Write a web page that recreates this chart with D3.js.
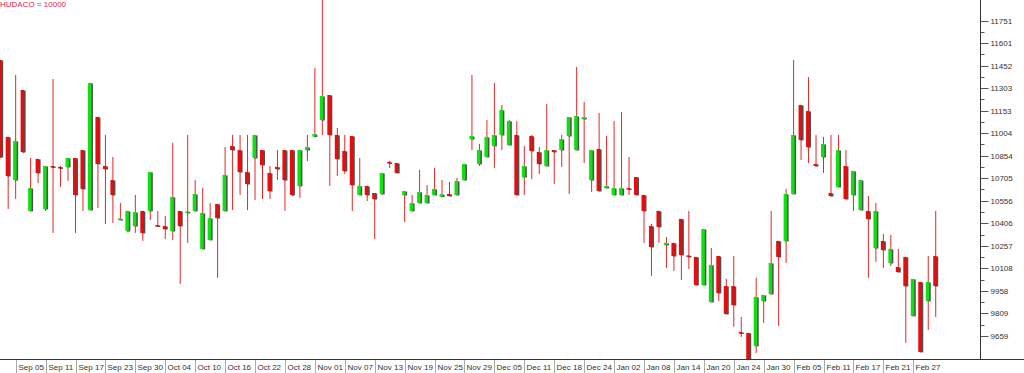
<!DOCTYPE html>
<html>
<head>
<meta charset="utf-8">
<script src="https://cdn.jsdelivr.net/npm/d3@7"></script>
<style>
body { margin: 0; background: #fff; }
svg { display: block; font-family: "Liberation Sans", Arial, sans-serif; }
</style>
</head>
<body>
<svg id="chart"></svg>
<script>
const title = 'HUDACO = 10000';

const dateLabels = ['Sep 05', 'Sep 11', 'Sep 17', 'Sep 23', 'Sep 30', 'Oct 04', 'Oct 10', 'Oct 16',
  'Oct 22', 'Oct 28', 'Nov 01', 'Nov 07', 'Nov 13', 'Nov 19', 'Nov 25', 'Nov 29', 'Dec 05',
  'Dec 11', 'Dec 18', 'Dec 24', 'Jan 02', 'Jan 08', 'Jan 14', 'Jan 20', 'Jan 24', 'Jan 30',
  'Feb 05', 'Feb 11', 'Feb 17', 'Feb 21', 'Feb 27'];

const yTicks = [9659, 9809, 9958, 10108, 10257, 10406, 10556, 10705, 10854, 11004, 11153, 11303,
  11452, 11601, 11751];

const open = [
  11489, 10979, 10693, 11290, 10488, 10833, 10501, 10786, 10780, 10780,
  10839, 10892, 10494, 11111, 10786, 10693, 10432, 10355, 10388, 10488,
  10488, 10395, 10388, 10355, 10488, 10481, 10488, 10236, 10296, 10534,
  10488, 10919, 10892, 10746, 10839, 10892, 10740, 10780, 10892, 10892,
  10654, 10892, 10981, 11091, 11257, 10992, 10886, 10985, 10594, 10654,
  10607, 10601, 10813, 10806, 10594, 10488, 10541, 10541, 10594, 10583,
  10601, 10594, 10693, 10965, 10800, 10846, 10919, 10992, 10925, 10992,
  10713, 10985, 10879, 10786, 10892, 10892, 10985, 10892, 11098, 10693,
  10899, 10640, 10594, 10594, 10640, 10713, 10594, 10388, 10488, 10262,
  10276, 10435, 10193, 10183, 9997, 9884, 10189, 9990, 9990, 9685,
  9679, 9593, 9891, 9937, 10289, 10289, 10601, 11191, 11151, 10800,
  10846, 10607, 10647, 10786, 10594, 10494, 10488, 10242, 10289, 10143,
  10116, 10183, 9792, 10017, 9891, 10189
];
const high = [
  11489, 10979, 11390, 11290, 10839, 10833, 10786, 11363, 10786, 10839,
  10839, 10892, 11337, 11111, 10992, 10846, 10541, 10488, 10594, 10488,
  10746, 10488, 10455, 10939, 10488, 10992, 10693, 10640, 10541, 10534,
  10912, 10992, 10992, 10992, 10992, 10892, 10786, 10892, 10892, 10892,
  10892, 10992, 11436, 11890, 11257, 11038, 10992, 10985, 10839, 10654,
  10607, 10740, 10821, 10806, 10620, 10594, 10760, 10660, 10773, 10693,
  10680, 10707, 10800, 11390, 10932, 11091, 11337, 11191, 11091, 11085,
  10919, 10992, 10912, 11197, 10892, 10992, 11111, 11443, 11211, 10892,
  11138, 10985, 11085, 11144, 10846, 10713, 10594, 10402, 10488, 10315,
  10276, 10435, 10488, 10183, 10368, 10242, 10189, 10037, 10189, 9785,
  9679, 10044, 9931, 10488, 10289, 10634, 11489, 11191, 11376, 10992,
  10979, 10992, 10992, 10892, 10753, 10693, 10587, 10541, 10335, 10329,
  10236, 10183, 10037, 10017, 10189, 10488
];
const low = [
  10839, 10501, 10567, 10872, 10488, 10673, 10488, 10342, 10647, 10687,
  10342, 10488, 10494, 10508, 10402, 10408, 10432, 10349, 10342, 10289,
  10428, 10382, 10302, 10296, 10004, 10276, 10488, 10236, 10296, 10044,
  10488, 10494, 10594, 10494, 10561, 10567, 10567, 10693, 10488, 10587,
  10574, 10819, 10981, 10992, 10654, 10720, 10733, 10488, 10594, 10554,
  10302, 10594, 10773, 10740, 10415, 10488, 10541, 10541, 10594, 10583,
  10587, 10594, 10693, 10892, 10786, 10846, 10773, 10892, 10925, 10594,
  10594, 10700, 10733, 10786, 10667, 10780, 10601, 10892, 10806, 10614,
  10620, 10640, 10594, 10594, 10594, 10594, 10276, 10057, 10276, 10110,
  10090, 10030, 10103, 9997, 9997, 9884, 9891, 9805, 9719, 9652,
  9490, 9546, 9745, 9937, 9725, 10143, 10601, 10826, 10806, 10786,
  10740, 10587, 10647, 10567, 10488, 10494, 10044, 10150, 10110, 10123,
  10083, 9613, 9792, 9553, 9699, 9785
];
const close = [
  10846, 10720, 10952, 10879, 10640, 10740, 10786, 10783, 10773, 10839,
  10594, 10634, 11337, 10800, 10766, 10594, 10438, 10488, 10481, 10342,
  10746, 10385, 10368, 10581, 10388, 10485, 10601, 10475, 10441, 10441,
  10727, 10892, 10746, 10667, 10992, 10793, 10620, 10766, 10693, 10594,
  10892, 10912, 10998, 11250, 10992, 10833, 10753, 10660, 10654, 10594,
  10567, 10740, 10809, 10740, 10620, 10541, 10614, 10594, 10634, 10599,
  10587, 10687, 10800, 10985, 10892, 10979, 10992, 11158, 11085, 10594,
  10786, 10886, 10800, 10892, 10879, 10965, 11111, 11118, 11111, 10892,
  10620, 10654, 10640, 10640, 10637, 10594, 10488, 10249, 10382, 10276,
  10189, 10196, 10189, 9997, 10368, 10130, 9944, 9805, 9864, 9679,
  9500, 9918, 9931, 10143, 10183, 10601, 10992, 10959, 10912, 10786,
  10932, 10587, 10892, 10567, 10753, 10693, 10435, 10488, 10229, 10236,
  10083, 9990, 10037, 9553, 10017, 9990
];

const [width, height] = [1024, 373];
const plotRight = 980, plotBottom = 359;

const candles = open.map((o, i) => ({ i: i, o: o, h: high[i], l: low[i], c: close[i] }));

let svg = d3.select('#chart')
  .attr('width', width)
  .attr('height', height)

// x: trading day index, y: price
let x = d3.scaleLinear().domain([0, 131]).range([0.7, 980.6])
let y = d3.scaleLinear().domain([9506, 11887]).range([plotBottom, 0])

svg.append('defs').append('clipPath')
  .attr('id', 'plotclip')
  .append('rect')
  .attr('width', plotRight)
  .attr('height', plotBottom)

let g = svg.append('g').attr('clip-path', 'url(#plotclip)')

// wicks
g.selectAll('line.wick')
  .data(candles)
  .enter()
  .append('line')
  .attr('class', 'wick')
  .attr('x1', d => x(d.i))
  .attr('x2', d => x(d.i))
  .attr('y1', d => y(d.h))
  .attr('y2', d => y(d.l))
  .attr('stroke', '#e02828')
  .attr('stroke-width', 1)

function bodyTop(d) { return y(Math.max(d.o, d.c)) }
function bodyH(d) { return Math.max(1.5, Math.abs(y(d.o) - y(d.c))) }

// body shadow
g.selectAll('rect.shadow')
  .data(candles)
  .enter()
  .append('rect')
  .attr('class', 'shadow')
  .attr('x', d => x(d.i) - 1)
  .attr('y', d => bodyTop(d) + 0.5)
  .attr('width', 3.5)
  .attr('height', d => bodyH(d))
  .attr('fill', '#505050')

// body
g.selectAll('rect.body')
  .data(candles)
  .enter()
  .append('rect')
  .attr('class', 'body')
  .attr('x', d => x(d.i) - 2.5)
  .attr('y', d => bodyTop(d))
  .attr('width', 3.5)
  .attr('height', d => bodyH(d))
  .attr('fill', d => d.c >= d.o ? '#10e010' : '#e80c0c')

// frame
svg.append('line')
  .attr('x1', plotRight + 0.5).attr('x2', plotRight + 0.5)
  .attr('y1', 0).attr('y2', plotBottom + 1)
  .attr('stroke', '#333')
svg.append('line')
  .attr('x1', 0).attr('x2', width)
  .attr('y1', plotBottom + 0.5).attr('y2', plotBottom + 0.5)
  .attr('stroke', '#333')

// right price axis
let yAxis = svg.append('g').attr('transform', 'translate(' + (plotRight + 0.5) + ',0)')
let mids = d3.pairs(yTicks).map(p => (p[0] + p[1]) / 2)
yAxis.selectAll('line.minor')
  .data(mids)
  .enter()
  .append('line')
  .attr('x1', 0).attr('x2', 4)
  .attr('y1', d => Math.round(y(d)) + 0.5)
  .attr('y2', d => Math.round(y(d)) + 0.5)
  .attr('stroke', '#555')
let tk = yAxis.selectAll('g.tick')
  .data(yTicks)
  .enter()
  .append('g')
  .attr('transform', d => 'translate(0,' + (Math.round(y(d)) + 0.5) + ')')
tk.append('line').attr('x1', 0).attr('x2', 8).attr('stroke', '#555')
tk.append('text')
  .attr('x', 10)
  .attr('dy', '0.35em')
  .attr('font-size', '8px')
  .attr('fill', '#333')
  .text(d => d)

// date labels, one every 4 trading days starting at index 2
let xl = svg.append('g')
  .selectAll('g')
  .data(dateLabels)
  .enter()
  .append('g')
  .attr('transform', (d, k) => 'translate(' + (Math.round(x(2 + k * 4)) + 0.5) + ',0)')
xl.append('line')
  .attr('y1', plotBottom + 1).attr('y2', height)
  .attr('stroke', '#aaa')
xl.append('text')
  .attr('x', 2)
  .attr('y', 370)
  .attr('font-size', '8px')
  .attr('fill', '#333')
  .text(d => d)

// title
svg.append('text')
  .attr('x', 0)
  .attr('y', 7)
  .attr('font-size', '8px')
  .attr('fill', '#e0204a')
  .text(title)
</script>
</body>
</html>
